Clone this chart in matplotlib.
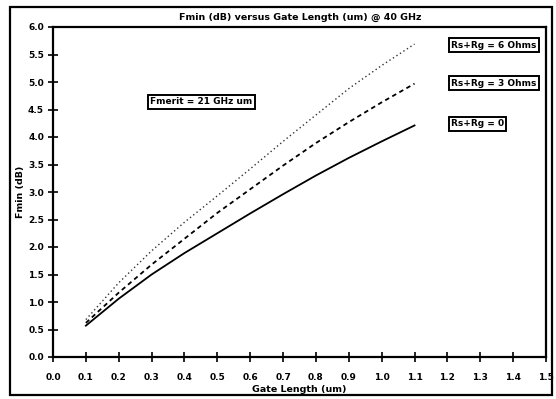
import matplotlib
matplotlib.use("Agg")
import matplotlib.pyplot as plt
from matplotlib.patches import Rectangle

# Data
gate_length = [0.1, 0.2, 0.3, 0.4, 0.5, 0.6, 0.7, 0.8, 0.9, 1.0, 1.1]
fmin_r0 = [0.57, 1.06, 1.50, 1.89, 2.25, 2.61, 2.96, 3.30, 3.62, 3.92, 4.21]
fmin_r3 = [0.62, 1.17, 1.68, 2.15, 2.62, 3.05, 3.48, 3.89, 4.27, 4.63, 4.97]
fmin_r6 = [0.68, 1.35, 1.93, 2.45, 2.93, 3.42, 3.92, 4.40, 4.88, 5.30, 5.69]
xticks = [i / 10 for i in range(16)]
yticks = [i / 2 for i in range(13)]
title = "Fmin (dB) versus Gate Length (um) @ 40 GHz"
xlabel = "Gate Length (um)"
ylabel = "Fmin (dB)"
labels = ["Rs+Rg = 6 Ohms", "Rs+Rg = 3 Ohms", "Rs+Rg = 0"]
merit = "Fmerit = 21 GHz um"

W, H = 556, 399
fig = plt.figure(figsize=(W / 100, H / 100), dpi=100)
ax = fig.add_axes([53 / W, 1 - 357 / H, (546 - 53) / W, (357 - 27) / H])

ax.plot(gate_length, fmin_r0, color="black", lw=1.3, ls="-")
ax.plot(gate_length, fmin_r3, color="black", lw=1.3, ls=(0, (2.5, 2)))
ax.plot(gate_length, fmin_r6, color="#333333", lw=1.0, ls=(0, (1, 2)))

ax.set_xlim(0, 1.5)
ax.set_ylim(0, 6)
ax.set_xticks(xticks)
ax.set_yticks(yticks)
ax.set_xticklabels([f"{t:.1f}" for t in xticks])
ax.set_yticklabels([f"{t:.1f}" for t in yticks])
ax.tick_params(direction="inout", length=7, width=1.2, labelsize=6.5)
ax.tick_params(axis="x", pad=8)
ax.tick_params(axis="y", pad=3)
for lab in ax.get_xticklabels() + ax.get_yticklabels():
    lab.set_fontweight("bold")
for sp in ax.spines.values():
    sp.set_linewidth(1.6)

fig.text(300 / W, 1 - 17 / H, title, ha="center", va="center",
         fontsize=6.8, fontweight="bold")
ax.set_xlabel(xlabel, fontsize=6.8, fontweight="bold", labelpad=2)
fig.text(21 / W, 1 - 192 / H, ylabel, ha="center", va="center", rotation=90,
         fontsize=6.8, fontweight="bold")

bbox = dict(boxstyle="square,pad=0.25", fc="white", ec="black", lw=1.4)
fig.text(451 / W, 1 - 45 / H, labels[0], ha="left", va="center",
         fontsize=6.5, fontweight="bold", bbox=bbox)
fig.text(451 / W, 1 - 83 / H, labels[1], ha="left", va="center",
         fontsize=6.5, fontweight="bold", bbox=bbox)
fig.text(451 / W, 1 - 124 / H, labels[2], ha="left", va="center",
         fontsize=6.5, fontweight="bold", bbox=bbox)
fig.text(150 / W, 1 - 102 / H, merit, ha="left", va="center",
         fontsize=6.5, fontweight="bold", bbox=bbox)

fig.patches.append(Rectangle((10 / W, 1 - 395 / H), (552 - 10) / W, (395 - 7) / H,
                             transform=fig.transFigure, fill=False,
                             ec="black", lw=1.6))

fig.savefig("out.png", dpi=100)
